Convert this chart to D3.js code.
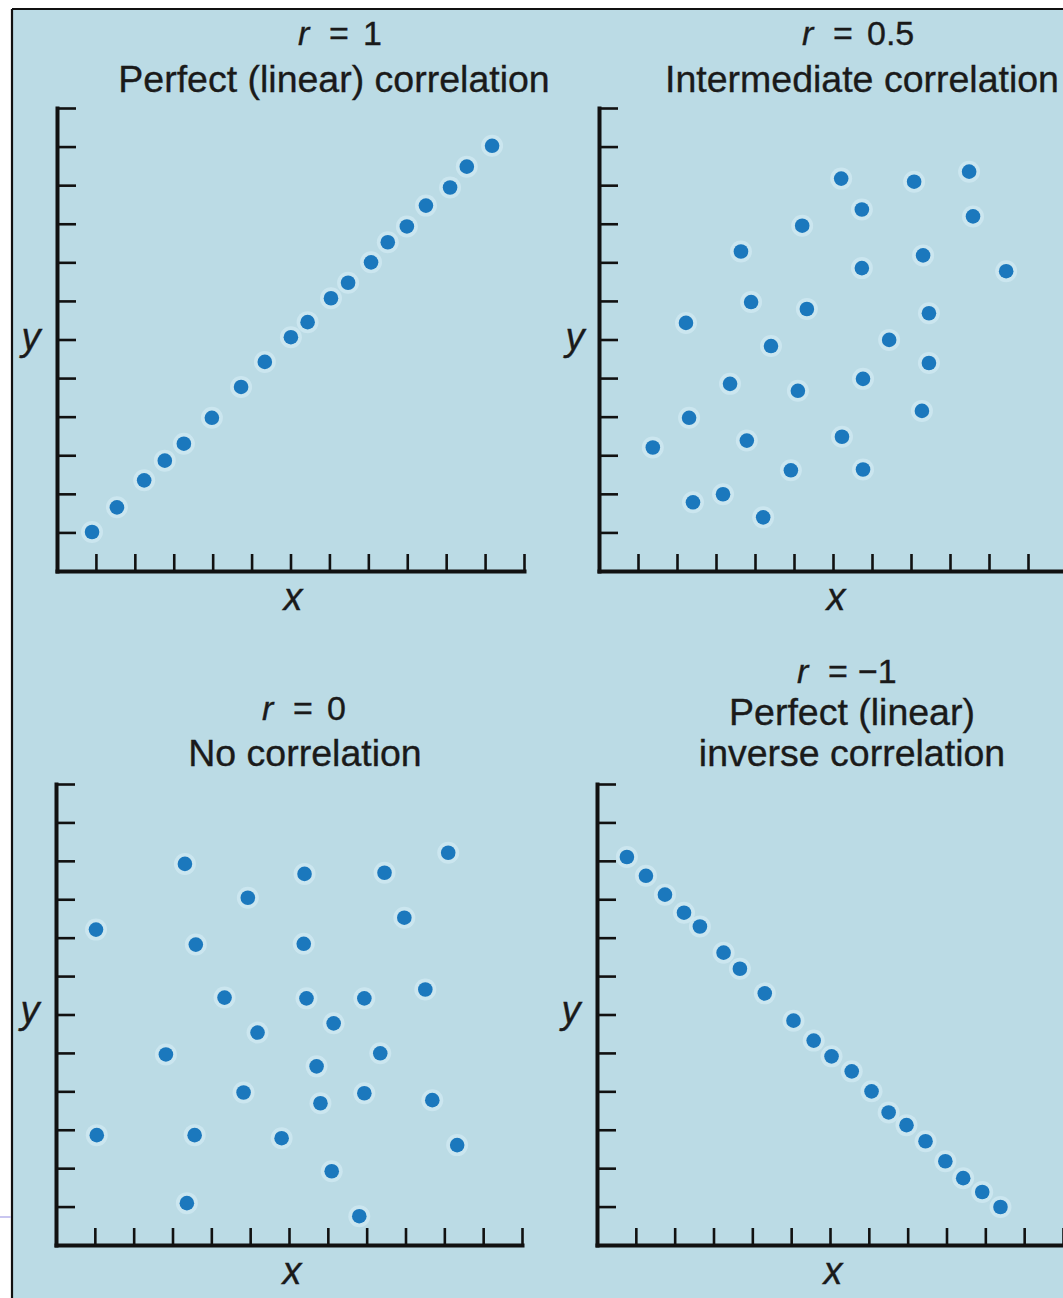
<!DOCTYPE html>
<html>
<head>
<meta charset="utf-8">
<script src="https://cdn.jsdelivr.net/npm/d3@7"></script>
<style>
  html, body { margin: 0; padding: 0; background: #ffffff; }
  svg { display: block; }
  text { font-family: "Liberation Sans", Arial, Helvetica, sans-serif; fill: #1a1a1a; stroke: #1a1a1a; stroke-width: 0.35px; }
</style>
</head>
<body>
<svg id="chart" width="1063" height="1298"></svg>
<script>
// ---------------- DATA ----------------
const rValues = ["1", "0.5", "0", "\u22121"];
const titleLines = [
  ["Perfect (linear) correlation"],
  ["Intermediate correlation"],
  ["No correlation"],
  ["Perfect (linear)", "inverse correlation"]
];
const axisTicks = [1, 2, 3, 4, 5, 6, 7, 8, 9, 10, 11, 12];

// Panel 1: r = 1
const p1x = [0.90, 1.54, 2.24, 2.77, 3.26, 3.98, 4.73, 5.34, 6.01, 6.44, 7.04, 7.48, 8.07, 8.50, 8.99, 9.48, 10.10, 10.53, 11.18];
const p1y = [1.01, 1.65, 2.35, 2.86, 3.30, 3.97, 4.77, 5.42, 6.06, 6.45, 7.07, 7.47, 8.00, 8.52, 8.93, 9.47, 9.94, 10.48, 11.02];

// Panel 2: r = 0.5
const p2x = [6.21, 8.08, 9.49, 6.74, 9.59, 5.21, 3.64, 8.31, 6.74, 10.44, 3.90, 5.33, 8.46, 2.23, 4.41, 7.44, 8.46, 3.36, 5.10, 6.77, 2.31, 8.28, 1.38, 3.79, 6.23, 4.92, 6.77, 2.41, 3.18, 4.21];
const p2y = [10.17, 10.09, 10.35, 9.37, 9.19, 8.95, 8.28, 8.18, 7.85, 7.77, 6.97, 6.79, 6.68, 6.43, 5.83, 5.99, 5.39, 4.85, 4.67, 4.98, 3.97, 4.15, 3.20, 3.38, 3.48, 2.61, 2.63, 1.78, 1.99, 1.39];

// Panel 3: r = 0
const p3x = [3.32, 6.40, 8.46, 10.10, 4.94, 8.97, 1.03, 3.60, 6.38, 4.34, 6.45, 7.94, 9.51, 7.15, 5.19, 2.83, 8.35, 6.71, 4.83, 7.94, 6.81, 9.69, 1.05, 3.57, 5.81, 10.33, 7.10, 3.37, 7.81];
const p3y = [9.92, 9.66, 9.69, 10.21, 9.04, 8.52, 8.21, 7.82, 7.84, 6.44, 6.42, 6.42, 6.65, 5.77, 5.53, 4.96, 4.99, 4.65, 3.97, 3.95, 3.69, 3.77, 2.86, 2.86, 2.78, 2.60, 1.92, 1.09, 0.75];

// Panel 4: r = -1
const p4x = [0.77, 1.26, 1.75, 2.24, 2.65, 3.26, 3.68, 4.32, 5.06, 5.58, 6.04, 6.56, 7.07, 7.51, 7.97, 8.46, 8.97, 9.43, 9.92, 10.39];
const p4y = [10.10, 9.61, 9.12, 8.65, 8.29, 7.61, 7.19, 6.55, 5.84, 5.32, 4.91, 4.52, 4.00, 3.45, 3.12, 2.70, 2.18, 1.74, 1.38, 0.99];

const seriesX = [p1x, p2x, p3x, p4x];
const seriesY = [p1y, p2y, p3y, p4y];

// ---------------- LAYOUT ----------------
const W = 1063, H = 1298;
const layout = [
  { x0: 57,  x1: 524,  yb: 571,  yt: 108, rX: 298, rY: 45,  tX: 334, tY: [92],       lx: 293, ly: 341, lyx: 31 },
  { x0: 599, x1: 1067, yb: 571,  yt: 108, rX: 802, rY: 45,  tX: 862, tY: [92],       lx: 836, ly: 341, lyx: 575 },
  { x0: 56,  x1: 522,  yb: 1245, yt: 784, rX: 262, rY: 720, tX: 305, tY: [766],      lx: 292, ly: 1014, lyx: 30 },
  { x0: 597, x1: 1063, yb: 1245, yt: 784, rX: 797, rY: 683, tX: 852, tY: [725, 766], lx: 833, ly: 1014, lyx: 571 }
];

const bg = "#bbdbe5";
const dotColor = "#1b78bd";
const haloColor = "#d9eff7";

const svg = d3.select("#chart");

// background: white outside, light blue panel with black border
svg.append("rect").attr("x", 0).attr("y", 0).attr("width", W).attr("height", H).attr("fill", "#ffffff");
svg.append("rect").attr("x", 12).attr("y", 9).attr("width", W - 12).attr("height", H - 9).attr("fill", bg);
svg.append("line").attr("x1", 12).attr("y1", 9).attr("x2", W).attr("y2", 9)
  .attr("stroke", "#111").attr("stroke-width", 2.2);
svg.append("line").attr("x1", 12).attr("y1", 9).attr("x2", 12).attr("y2", H)
  .attr("stroke", "#111").attr("stroke-width", 2.2);
// small lavender mark at left edge
svg.append("line").attr("x1", 0).attr("y1", 1217).attr("x2", 11).attr("y2", 1217)
  .attr("stroke", "#c9c6f0").attr("stroke-width", 2);

layout.forEach((L, i) => {
  const g = svg.append("g");
  const x = d3.scaleLinear().domain([0, 12]).range([L.x0, L.x1]);
  const y = d3.scaleLinear().domain([0, 12]).range([L.yb, L.yt]);

  // axes
  const xAxis = d3.axisBottom(x).tickValues(axisTicks).tickSizeInner(-17).tickSizeOuter(0).tickFormat("");
  const yAxis = d3.axisLeft(y).tickValues(axisTicks).tickSizeInner(-19).tickSizeOuter(0).tickFormat("");

  const gx = g.append("g").attr("transform", `translate(0,${L.yb})`).call(xAxis);
  const gy = g.append("g").attr("transform", `translate(${L.x0},0)`).call(yAxis);
  [gx, gy].forEach(a => {
    a.select(".domain").attr("stroke", "#111").attr("stroke-width", 4).attr("stroke-linecap", "square");
    a.selectAll(".tick line").attr("stroke", "#111").attr("stroke-width", 2.6);
  });

  // axis labels
  g.append("text").attr("x", L.lx).attr("y", L.yb + 39).attr("text-anchor", "middle")
    .style("font-style", "italic").style("font-size", "38px").text("x");
  g.append("text").attr("x", L.lyx).attr("y", L.ly + 9).attr("text-anchor", "middle")
    .style("font-style", "italic").style("font-size", "38px").text("y");

  // r-line title
  const rt = g.append("text").attr("x", L.rX).attr("y", L.rY).style("font-size", "34px");
  rt.append("tspan").style("font-style", "italic").text("r");
  rt.append("tspan").attr("x", L.rX + 31).text("=");
  rt.append("tspan").attr("x", L.rX + 65 - (i === 3 ? 4 : 0)).text(rValues[i]);

  // subtitle(s)
  titleLines[i].forEach((t, k) => {
    g.append("text").attr("x", L.tX).attr("y", L.tY[k]).attr("text-anchor", "middle")
      .style("font-size", "37.5px").text(t);
  });

  // dots
  const pts = seriesX[i].map((v, j) => ({ x: v, y: seriesY[i][j] }));
  g.append("g").selectAll("circle").data(pts).join("circle")
    .attr("cx", d => x(d.x)).attr("cy", d => y(d.y)).attr("r", 11)
    .attr("fill", haloColor).attr("opacity", 0.55);
  g.append("g").selectAll("circle").data(pts).join("circle")
    .attr("cx", d => x(d.x)).attr("cy", d => y(d.y)).attr("r", 7.3)
    .attr("fill", dotColor);
});
</script>
</body>
</html>
